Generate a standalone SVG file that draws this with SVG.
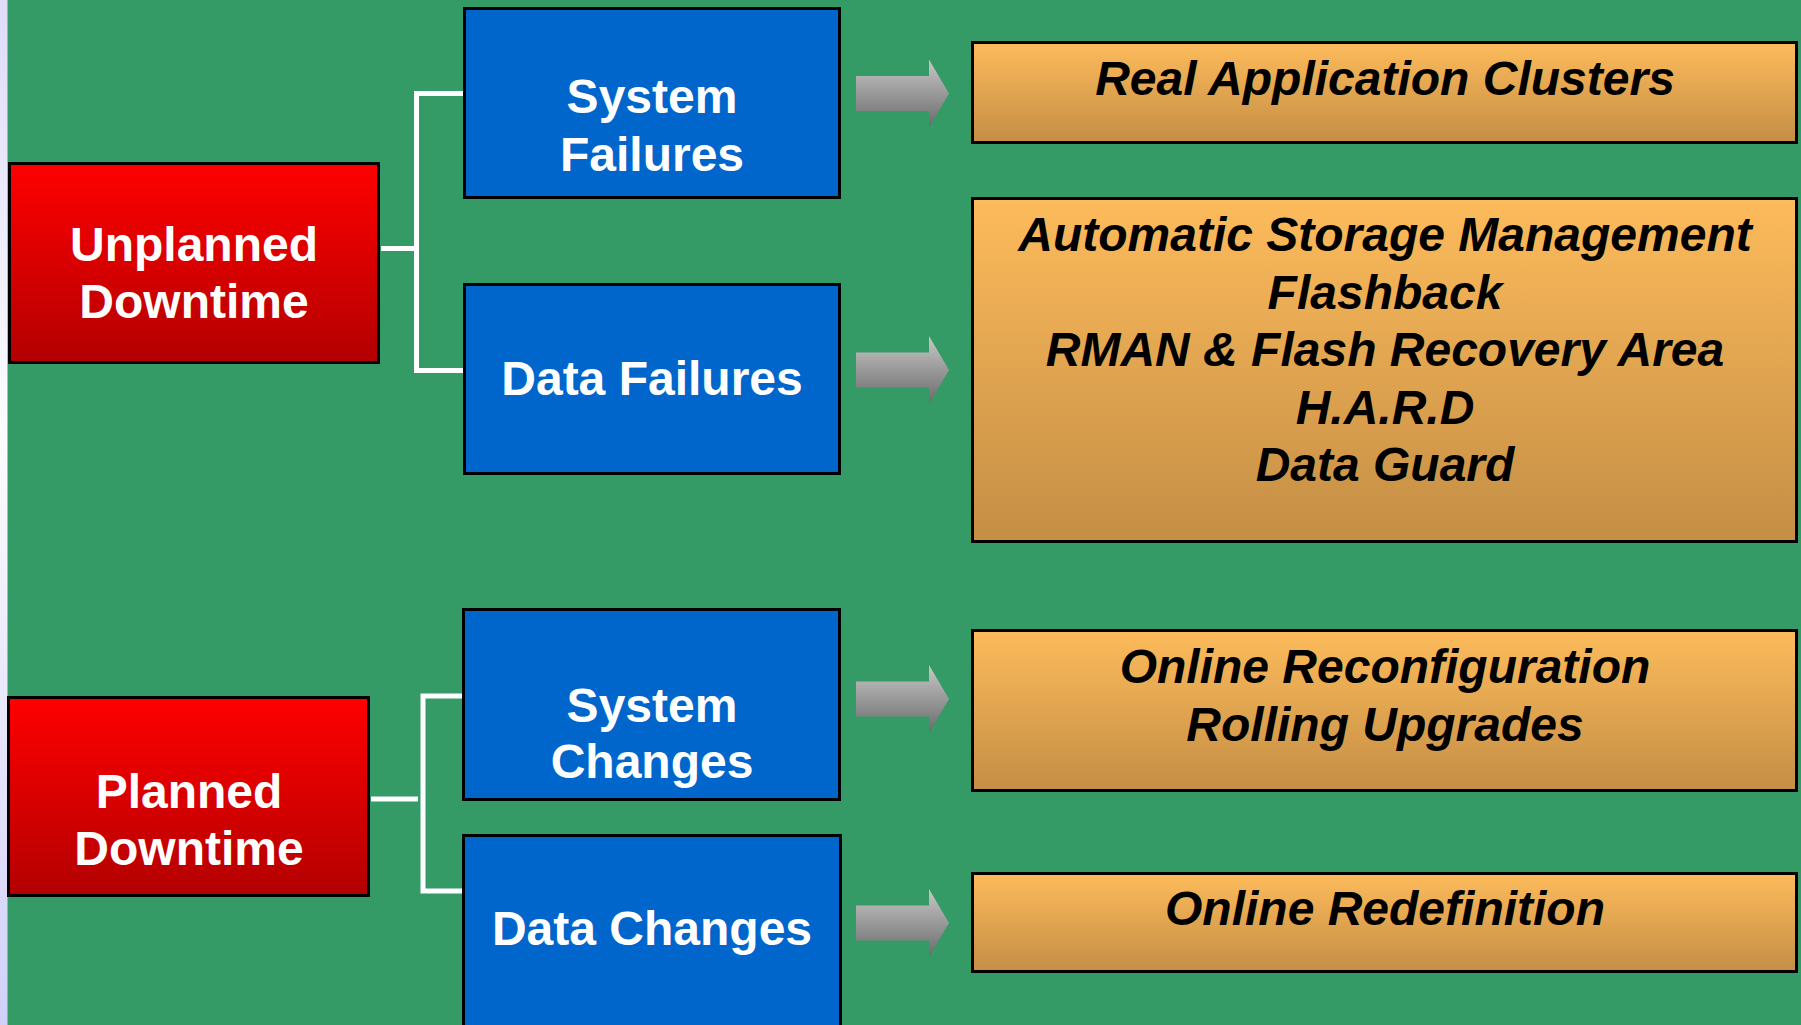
<svg xmlns="http://www.w3.org/2000/svg" width="1801" height="1025" viewBox="0 0 1801 1025">
  <defs>
    <linearGradient id="gStrip" x1="0" y1="0" x2="0" y2="1">
      <stop offset="0" stop-color="#dedcf8"/>
      <stop offset="0.42" stop-color="#fcfcff"/>
      <stop offset="1" stop-color="#d2d0f8"/>
    </linearGradient>
    <linearGradient id="gRed" x1="0" y1="0" x2="0" y2="1">
      <stop offset="0" stop-color="#ff0000"/>
      <stop offset="1" stop-color="#b30000"/>
    </linearGradient>
    <linearGradient id="gOrange" x1="0" y1="0" x2="0" y2="1">
      <stop offset="0" stop-color="#fdbb5b"/>
      <stop offset="1" stop-color="#c48e45"/>
    </linearGradient>
    <linearGradient id="gArrow" x1="0" y1="0" x2="0" y2="1">
      <stop offset="0" stop-color="#c8c8c8"/>
      <stop offset="1" stop-color="#6a6a6a"/>
    </linearGradient>
    <path id="arrow" d="M856,-17.5 H929 V-34 L949,0 L929,34 V17.5 H856 Z"/>
  </defs>
  <style>
    .red { fill: url(#gRed); stroke: #000; stroke-width: 3; }
    .blue { fill: #0066cc; stroke: #000; stroke-width: 3; }
    .orange { fill: url(#gOrange); stroke: #000; stroke-width: 3; }
    .wt { font-family: "Liberation Sans", Arial, sans-serif; font-weight: bold; font-size: 48px; fill: #fff; text-anchor: middle; }
    .bt { font-family: "Liberation Sans", Arial, sans-serif; font-weight: bold; font-style: italic; font-size: 48px; fill: #000; text-anchor: middle; }
    .conn { stroke: #fff; stroke-width: 5; fill: none; }
    .arr { fill: url(#gArrow); }
  </style>

  <rect x="0" y="0" width="1801" height="1025" fill="#349a66"/>
  <rect x="0" y="0" width="7.5" height="1025" fill="url(#gStrip)"/>

  <g id="connectors">
    <line class="conn" x1="381" y1="248.5" x2="414" y2="248.5"/>
    <path class="conn" d="M463,93.5 H416.5 V370.5 H463"/>
    <line class="conn" x1="371" y1="799" x2="418" y2="799"/>
    <path class="conn" d="M462,696 H423 V891 H462"/>
    <use href="#arrow" class="arr" transform="translate(0,93.5)"/>
    <use href="#arrow" class="arr" transform="translate(0,370)"/>
    <use href="#arrow" class="arr" transform="translate(0,699)"/>
    <use href="#arrow" class="arr" transform="translate(0,923)"/>
  </g>

  <g id="unplanned">
    <rect class="red" x="9.5" y="163.5" width="369" height="199"/>
    <text class="wt" x="194" y="261">Unplanned</text>
    <text class="wt" x="194" y="318">Downtime</text>
  </g>
  <g id="planned">
    <rect class="red" x="8.5" y="697.5" width="360" height="198"/>
    <text class="wt" x="189" y="808">Planned</text>
    <text class="wt" x="189" y="865">Downtime</text>
  </g>

  <g id="system-failures">
    <rect class="blue" x="464.5" y="8.5" width="375" height="189"/>
    <text class="wt" x="652" y="113">System</text>
    <text class="wt" x="652" y="171">Failures</text>
  </g>
  <g id="data-failures">
    <rect class="blue" x="464.5" y="284.5" width="375" height="189"/>
    <text class="wt" x="652" y="395">Data Failures</text>
  </g>
  <g id="system-changes">
    <rect class="blue" x="463.5" y="609.5" width="376" height="190"/>
    <text class="wt" x="652" y="722">System</text>
    <text class="wt" x="652" y="778">Changes</text>
  </g>
  <g id="data-changes">
    <rect class="blue" x="463.5" y="835.5" width="377" height="200"/>
    <text class="wt" x="652" y="945">Data Changes</text>
  </g>

  <g id="rac">
    <rect class="orange" x="972.5" y="42.5" width="824" height="100"/>
    <text class="bt" x="1385" y="95">Real Application Clusters</text>
  </g>
  <g id="data-solutions">
    <rect class="orange" x="972.5" y="198.5" width="824" height="343"/>
    <text class="bt" x="1385" y="251">Automatic Storage Management</text>
    <text class="bt" x="1385" y="308.6">Flashback</text>
    <text class="bt" x="1385" y="366.2">RMAN &amp; Flash Recovery Area</text>
    <text class="bt" x="1385" y="423.8">H.A.R.D</text>
    <text class="bt" x="1385" y="481.4">Data Guard</text>
  </g>
  <g id="online-reconfig">
    <rect class="orange" x="972.5" y="630.5" width="824" height="160"/>
    <text class="bt" x="1385" y="683">Online Reconfiguration</text>
    <text class="bt" x="1385" y="741">Rolling Upgrades</text>
  </g>
  <g id="online-redef">
    <rect class="orange" x="972.5" y="873.5" width="824" height="98"/>
    <text class="bt" x="1385" y="925">Online Redefinition</text>
  </g>
</svg>
